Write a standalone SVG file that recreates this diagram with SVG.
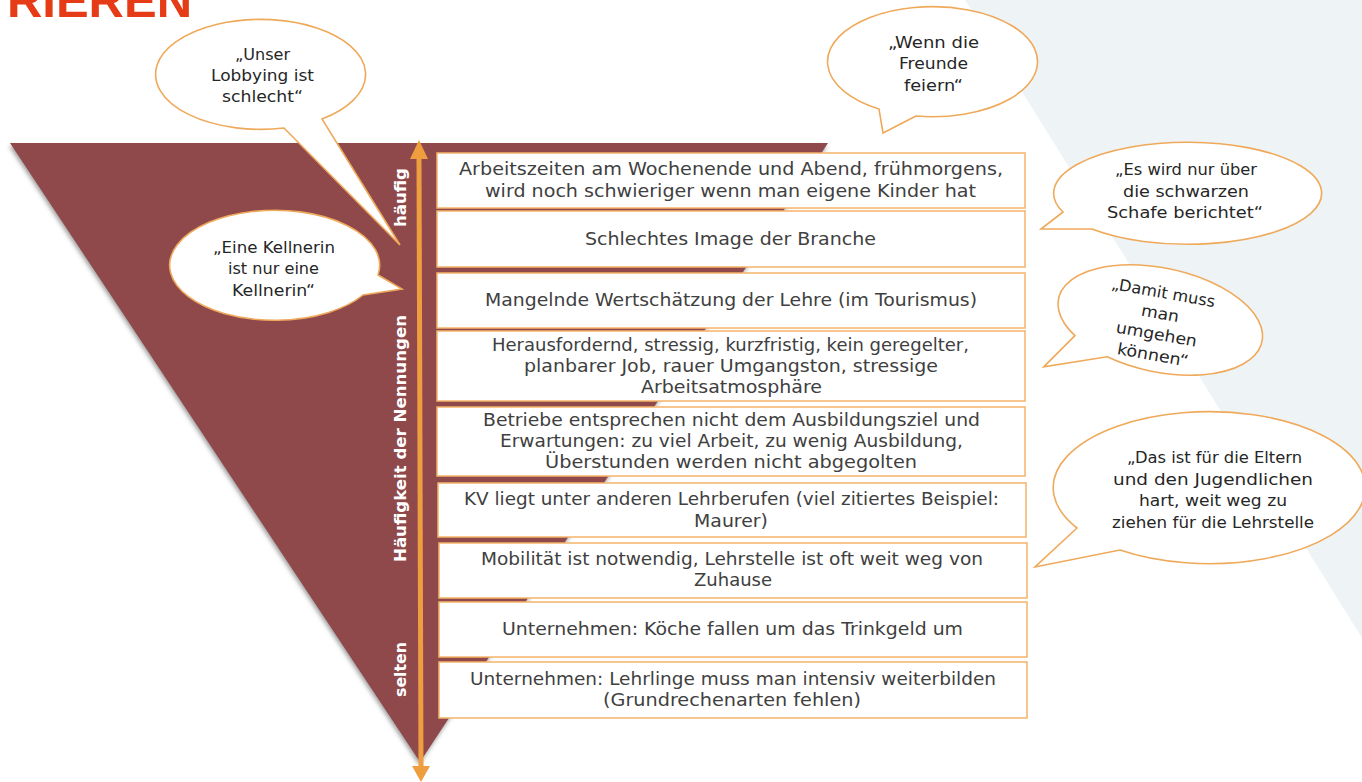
<svg xmlns="http://www.w3.org/2000/svg" width="1362" height="782" viewBox="0 0 1362 782">
<style>
.box{fill:#ffffff;stroke:#F5B46A;stroke-width:1.5}
.bt{font-family:"DejaVu Sans","Liberation Sans",sans-serif;font-size:17px;fill:#404040}
.bub{fill:#ffffff;stroke:#EFA95A;stroke-width:1.6}
.qt{font-family:"DejaVu Sans","Liberation Sans",sans-serif;font-size:16px;fill:#262626}
.vl{font-family:"DejaVu Sans","Liberation Sans",sans-serif;font-size:16px;font-weight:bold;fill:#ffffff}
</style>
<defs>
<filter id="sh" x="-5%" y="-5%" width="110%" height="110%">
<feDropShadow dx="-1" dy="3" stdDeviation="2" flood-color="#555" flood-opacity="0.55"/>
</filter>
</defs>
<rect width="1362" height="782" fill="#ffffff"/>
<polygon points="965,0 1362,0 1362,638" fill="#EEF3F6"/>
<text x="7" y="17" font-family="'Liberation Sans',sans-serif" font-weight="bold" font-size="48" fill="#E63B17" textLength="185" lengthAdjust="spacingAndGlyphs">RIEREN</text>

<g id="funnel">
<polygon points="10,143 828,143 420,762" fill="#8F4A4B" filter="url(#sh)"/>
</g>

<g id="connectors">
<line x1="419" y1="156" x2="421" y2="767" stroke="#EE9E3E" stroke-width="5"/>
<polygon points="419,140 410,159 428,159" fill="#EE9E3E"/>
<polygon points="421,782 412,766 430,766" fill="#EE9E3E"/>
</g>

<g id="axis-labels">
<text class="vl" transform="translate(406,227) rotate(-90)" textLength="59" lengthAdjust="spacingAndGlyphs">häufig</text>
<text class="vl" transform="translate(406,562) rotate(-90)" textLength="247" lengthAdjust="spacingAndGlyphs">Häufigkeit der Nennungen</text>
<text class="vl" transform="translate(406,697) rotate(-90)" textLength="55" lengthAdjust="spacingAndGlyphs">selten</text>
</g>

<g id="box1"><rect class="box" x="437" y="153" width="588" height="55"/>
<text class="bt" x="459" y="175" textLength="544" lengthAdjust="spacingAndGlyphs">Arbeitszeiten am Wochenende  und Abend, frühmorgens,</text>
<text class="bt" x="485" y="197" textLength="491" lengthAdjust="spacingAndGlyphs">wird noch schwieriger wenn man eigene Kinder hat</text></g>
<g id="box2"><rect class="box" x="437" y="211" width="588" height="56"/>
<text class="bt" x="585" y="245" textLength="291" lengthAdjust="spacingAndGlyphs">Schlechtes Image der Branche</text></g>
<g id="box3"><rect class="box" x="437" y="273" width="588" height="55"/>
<text class="bt" x="485" y="306" textLength="492" lengthAdjust="spacingAndGlyphs">Mangelnde Wertschätzung der Lehre (im Tourismus)</text></g>
<g id="box4"><rect class="box" x="437" y="331" width="588" height="70"/>
<text class="bt" x="492" y="351" textLength="477" lengthAdjust="spacingAndGlyphs">Herausfordernd, stressig, kurzfristig, kein geregelter,</text>
<text class="bt" x="524" y="372" textLength="414" lengthAdjust="spacingAndGlyphs">planbarer Job, rauer Umgangston, stressige</text>
<text class="bt" x="641" y="393" textLength="181" lengthAdjust="spacingAndGlyphs">Arbeitsatmosphäre</text></g>
<g id="box5"><rect class="box" x="437" y="407" width="588" height="69"/>
<text class="bt" x="483" y="426" textLength="497" lengthAdjust="spacingAndGlyphs">Betriebe entsprechen nicht dem Ausbildungsziel und</text>
<text class="bt" x="500" y="447" textLength="463" lengthAdjust="spacingAndGlyphs">Erwartungen: zu viel Arbeit, zu wenig Ausbildung,</text>
<text class="bt" x="545" y="468" textLength="372" lengthAdjust="spacingAndGlyphs">Überstunden werden nicht abgegolten</text></g>
<g id="box6"><rect class="box" x="438" y="483" width="588" height="54"/>
<text class="bt" x="464" y="505" textLength="535" lengthAdjust="spacingAndGlyphs">KV liegt unter anderen Lehrberufen (viel zitiertes Beispiel:</text>
<text class="bt" x="694" y="527" textLength="74" lengthAdjust="spacingAndGlyphs">Maurer)</text></g>
<g id="box7"><rect class="box" x="439" y="543" width="588" height="55"/>
<text class="bt" x="481" y="565" textLength="502" lengthAdjust="spacingAndGlyphs">Mobilität ist notwendig, Lehrstelle ist oft weit weg von</text>
<text class="bt" x="694" y="586" textLength="78" lengthAdjust="spacingAndGlyphs">Zuhause</text></g>
<g id="box8"><rect class="box" x="439" y="602" width="588" height="55"/>
<text class="bt" x="502" y="635" textLength="461" lengthAdjust="spacingAndGlyphs">Unternehmen: Köche fallen um das Trinkgeld um</text></g>
<g id="box9"><rect class="box" x="439" y="662" width="588" height="56"/>
<text class="bt" x="470" y="685" textLength="526" lengthAdjust="spacingAndGlyphs">Unternehmen: Lehrlinge muss man intensiv weiterbilden</text>
<text class="bt" x="603" y="706" textLength="258" lengthAdjust="spacingAndGlyphs">(Grundrechenarten fehlen)</text></g>

<g id="bubble-lobbying">
<path class="bub" d="M284,128 L400,245 L322,119 A105,55 0 1 0 284,128 Z"/>
<text class="qt" x="235" y="60" textLength="55" lengthAdjust="spacingAndGlyphs">„Unser</text>
<text class="qt" x="211" y="81" textLength="103" lengthAdjust="spacingAndGlyphs">Lobbying ist</text>
<text class="qt" x="222" y="102" textLength="81" lengthAdjust="spacingAndGlyphs">schlecht“</text>
</g>
<g id="bubble-freunde">
<path class="bub" d="M916,116 L883,133 L879,109 A105,55 0 1 1 916,116 Z"/>
<text class="qt" x="888" y="48" textLength="91" lengthAdjust="spacingAndGlyphs">„Wenn die</text>
<text class="qt" x="899" y="69" textLength="69" lengthAdjust="spacingAndGlyphs">Freunde</text>
<text class="qt" x="904" y="91" textLength="59" lengthAdjust="spacingAndGlyphs">feiern“</text>
</g>
<g id="bubble-schafe">
<path class="bub" d="M1063,212 L1041,229 L1092,229 A134,51 0 1 0 1063,212 Z"/>
<text class="qt" x="1115" y="175" textLength="142" lengthAdjust="spacingAndGlyphs">„Es wird nur über</text>
<text class="qt" x="1123" y="197" textLength="126" lengthAdjust="spacingAndGlyphs">die schwarzen</text>
<text class="qt" x="1107" y="218" textLength="156" lengthAdjust="spacingAndGlyphs">Schafe berichtet“</text>
</g>
<g id="bubble-damit">
<path class="bub" transform="rotate(12 1160 320)" d="M1080,353 L1056,390 L1116,367 A104,52 0 1 0 1080,353 Z"/>
<g transform="rotate(10 1160 320)">
<text class="qt" x="1106" y="298" textLength="105" lengthAdjust="spacingAndGlyphs">„Damit muss</text>
<text class="qt" x="1140" y="319" textLength="38" lengthAdjust="spacingAndGlyphs">man</text>
<text class="qt" x="1118" y="340" textLength="82" lengthAdjust="spacingAndGlyphs">umgehen</text>
<text class="qt" x="1123" y="361" textLength="72" lengthAdjust="spacingAndGlyphs">können“</text>
</g>
</g>
<g id="bubble-eltern">
<path class="bub" d="M1077,528 L1035,567 L1120,550 A156,76 0 1 0 1077,528 Z"/>
<text class="qt" x="1127" y="463" textLength="175" lengthAdjust="spacingAndGlyphs">„Das ist für die Eltern</text>
<text class="qt" x="1113" y="485" textLength="200" lengthAdjust="spacingAndGlyphs">und den Jugendlichen</text>
<text class="qt" x="1139" y="506" textLength="148" lengthAdjust="spacingAndGlyphs">hart, weit weg zu</text>
<text class="qt" x="1112" y="528" textLength="202" lengthAdjust="spacingAndGlyphs">ziehen für die Lehrstelle</text>
</g>
<g id="bubble-kellnerin">
<path class="bub" d="M378,275 L402,289 L363,295 A105,55 0 1 1 378,275 Z"/>
<text class="qt" x="213" y="253" textLength="122" lengthAdjust="spacingAndGlyphs">„Eine Kellnerin</text>
<text class="qt" x="228" y="274" textLength="91" lengthAdjust="spacingAndGlyphs">ist nur eine</text>
<text class="qt" x="232" y="296" textLength="83" lengthAdjust="spacingAndGlyphs">Kellnerin“</text>
</g>
</svg>
